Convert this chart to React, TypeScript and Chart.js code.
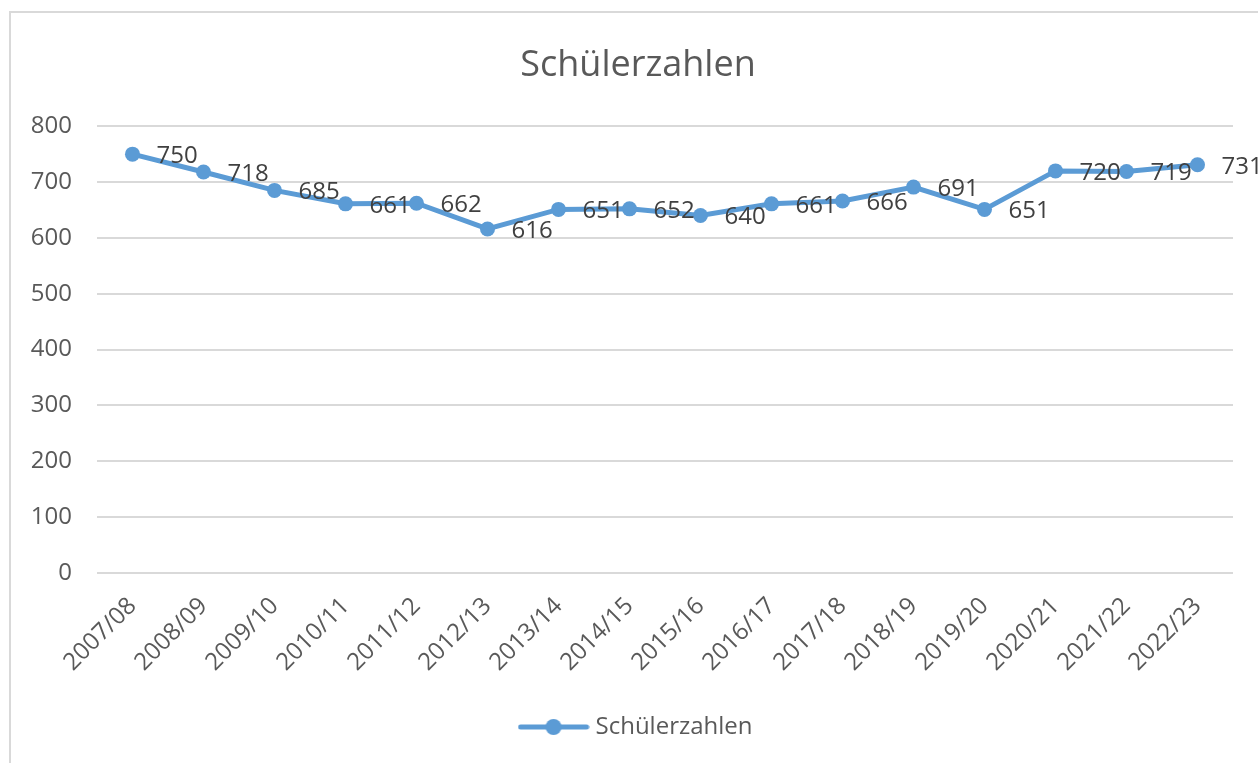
import React, { useEffect, useRef } from "react";
import { Chart, registerables } from "chart.js";

Chart.register(...registerables);

const categories = [
  "2007/08", "2008/09", "2009/10", "2010/11", "2011/12", "2012/13", "2013/14", "2014/15",
  "2015/16", "2016/17", "2017/18", "2018/19", "2019/20", "2020/21", "2021/22", "2022/23",
];
const studentCounts = [750, 718, 685, 661, 662, 616, 651, 652, 640, 661, 666, 691, 651, 720, 719, 731];
const seriesName = "Schülerzahlen";
const titleText = "Schülerzahlen";
const yTickMin = 0;
const yTickMax = 800;
const yTickStep = 100;

const BLUE = "#5b9bd5";
const FONT = "'Open Sans', sans-serif";

function makeLegendImage(): HTMLCanvasElement {
  const c = document.createElement("canvas");
  c.width = 72;
  c.height = 20;
  const ctx = c.getContext("2d")!;
  ctx.strokeStyle = BLUE;
  ctx.lineWidth = 5;
  ctx.lineCap = "round";
  ctx.beginPath();
  ctx.moveTo(3, 10);
  ctx.lineTo(69, 10);
  ctx.stroke();
  ctx.fillStyle = BLUE;
  ctx.beginPath();
  ctx.arc(36, 10, 8, 0, Math.PI * 2);
  ctx.fill();
  return c;
}

const dataLabelPlugin = {
  id: "dataLabels",
  afterDatasetsDraw(chart: any) {
    const ctx = chart.ctx;
    const meta = chart.getDatasetMeta(0);
    ctx.save();
    ctx.font = `24px ${FONT}`;
    ctx.fillStyle = "#404040";
    ctx.textAlign = "left";
    ctx.textBaseline = "middle";
    meta.data.forEach((pt: any, i: number) => {
      ctx.fillText(String(chart.data.datasets[0].data[i]), pt.x + 24, pt.y + 2);
    });
    ctx.restore();
  },
};

// centre title and legend across the whole frame rather than only over the plot column
const recentrePlugin = {
  id: "recentre",
  afterLayout(chart: any) {
    if (chart.titleBlock) chart.titleBlock.left = 43;
    if (chart.legend) chart.legend.left = 43;
  },
};

export default function App() {
  const ref = useRef<HTMLCanvasElement>(null);
  useEffect(() => {
    const legendImg = makeLegendImage();
    const chart = new Chart(ref.current!, {
      type: "line",
      data: {
        labels: categories,
        datasets: [
          {
            label: seriesName,
            data: studentCounts,
            borderColor: BLUE,
            backgroundColor: BLUE,
            borderWidth: 5,
            pointStyle: "circle",
            pointRadius: 7.5,
            pointHoverRadius: 7.5,
            pointBackgroundColor: BLUE,
            pointBorderWidth: 0,
            tension: 0,
          },
        ],
      },
      options: {
        responsive: false,
        animation: false,
        layout: { padding: { left: 0, right: 25, top: 0, bottom: 14 } },
        plugins: {
          title: {
            display: true,
            text: titleText,
            color: "#595959",
            font: { family: FONT, size: 36, weight: "normal" },
            padding: { top: 44, bottom: 39 },
          },
          legend: {
            position: "bottom",
            labels: {
              usePointStyle: true,
              pointStyleWidth: 60,
              padding: 10,
              color: "#595959",
              font: { family: FONT, size: 24 },
              generateLabels: () => [
                {
                  text: seriesName,
                  pointStyle: legendImg,
                  fillStyle: BLUE,
                  strokeStyle: BLUE,
                  lineWidth: 0,
                  hidden: false,
                  datasetIndex: 0,
                  fontColor: "#595959",
                } as any,
              ],
            },
          },
          tooltip: { enabled: false },
        },
        scales: {
          x: {
            offset: true,
            grid: { display: false },
            border: { display: false },
            ticks: {
              color: "#595959",
              font: { family: FONT, size: 24 },
              minRotation: 45,
              maxRotation: 45,
              padding: 11,
            },
            afterFit: (s: any) => {
              s.height = 132;
            },
          },
          y: {
            min: yTickMin,
            max: yTickMax,
            grid: { color: "#d9d9d9", lineWidth: 2, drawTicks: false },
            border: { display: false },
            ticks: {
              stepSize: yTickStep,
              color: "#595959",
              font: { family: FONT, size: 24 },
              padding: 25,
            },
            afterFit: (s: any) => {
              s.width = 97;
            },
          },
        },
      },
      plugins: [dataLabelPlugin, recentrePlugin],
    });
    return () => chart.destroy();
  }, []);

  return (
    <div
      style={{
        position: "absolute",
        left: 0,
        top: 0,
        width: 1258,
        height: 763,
        overflow: "hidden",
        background: "#fff",
      }}
    >
      <div
        style={{
          position: "absolute",
          left: 9,
          top: 11,
          width: 1300,
          height: 800,
          border: "2px solid #d9d9d9",
        }}
      />
      <canvas
        ref={ref}
        width={1258}
        height={763}
        style={{ position: "absolute", left: 0, top: 0 }}
      />
    </div>
  );
}
